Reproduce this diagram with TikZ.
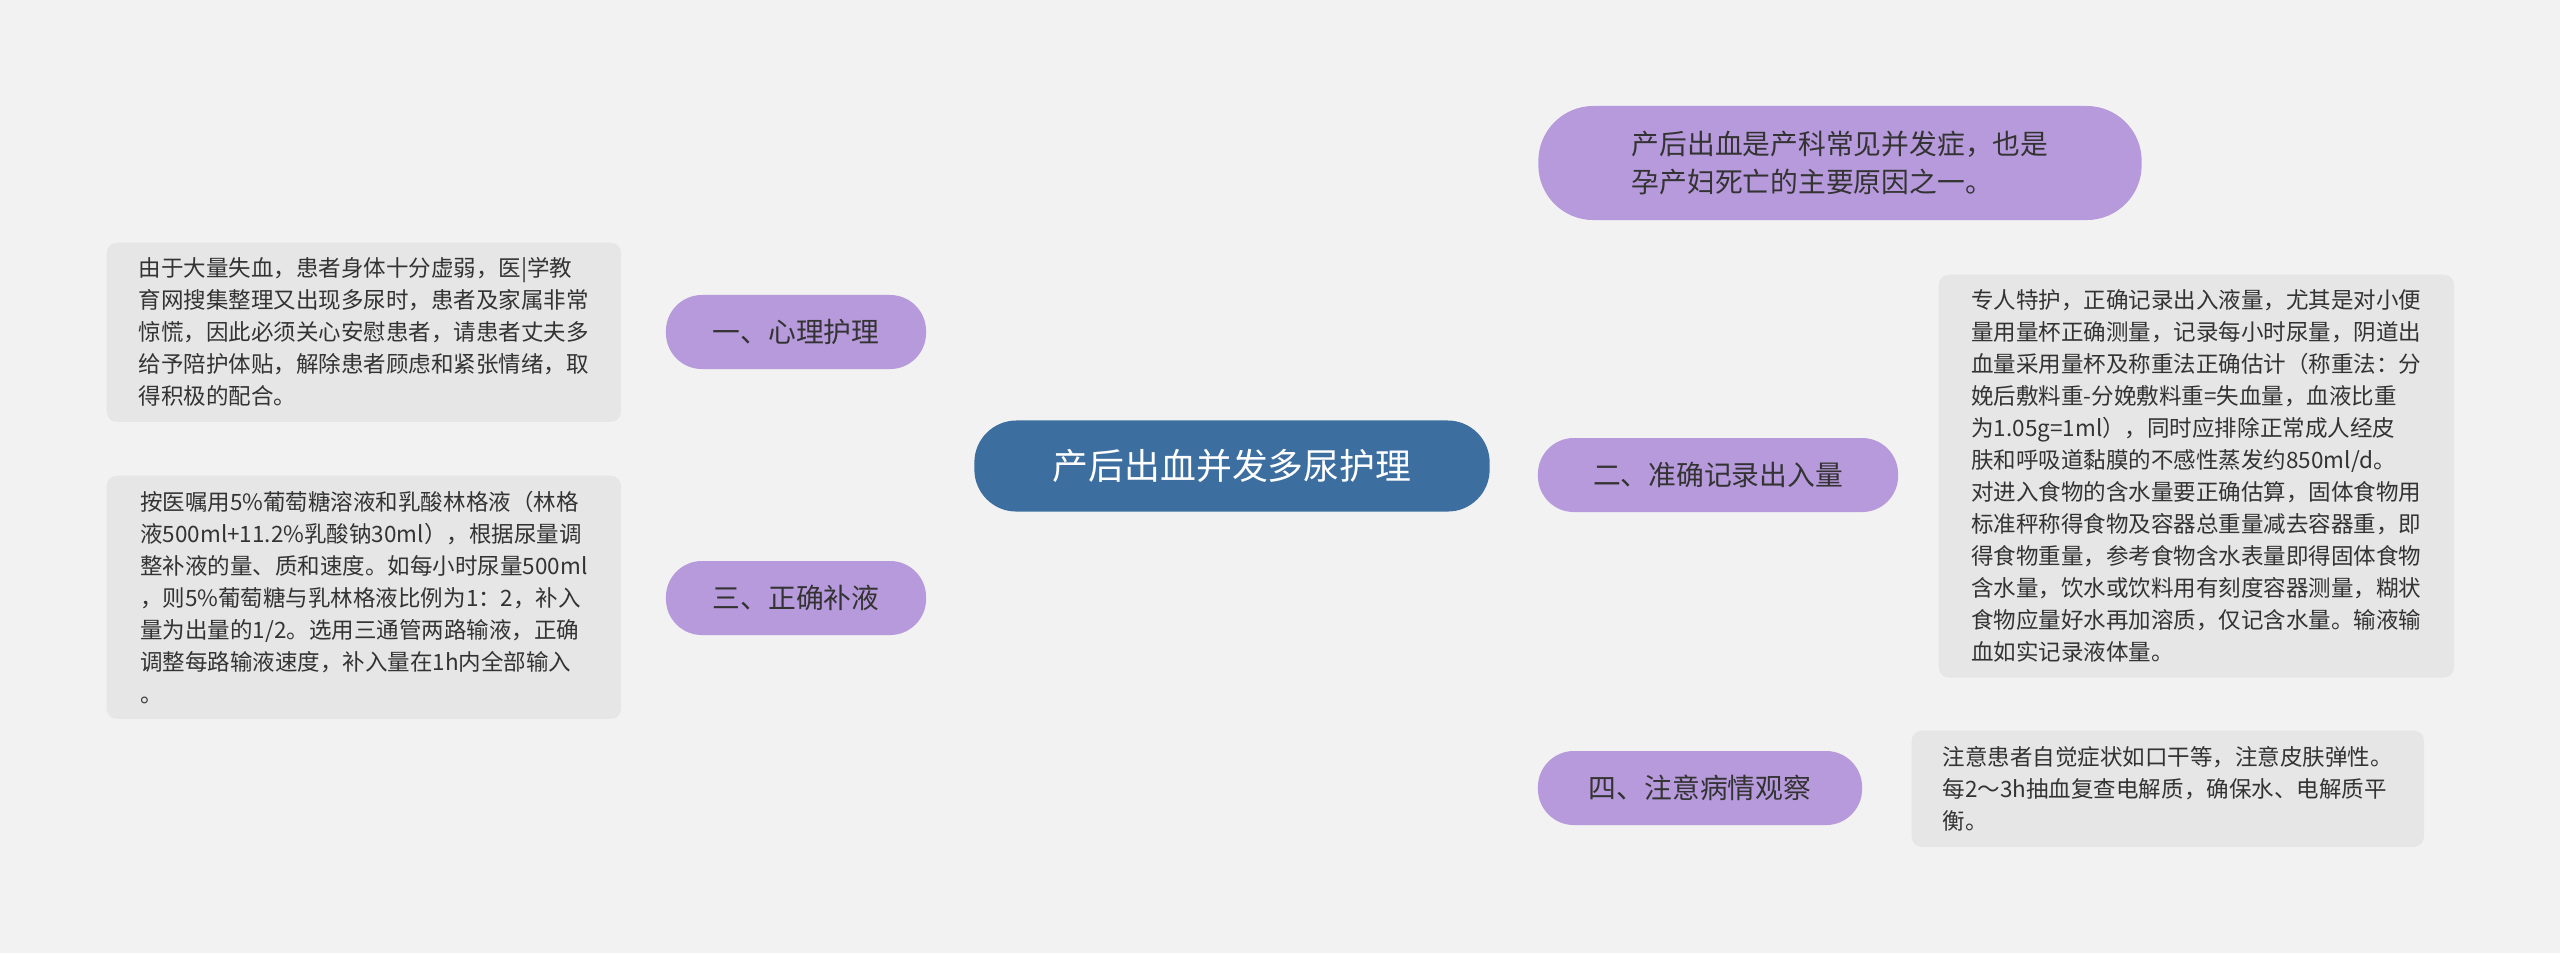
\documentclass[tikz,border=0pt]{standalone}
\usepackage{fontspec}
\setmainfont{Noto Sans CJK SC}
\usetikzlibrary{backgrounds}
\definecolor{rootblue}{HTML}{3C6E9F}
\definecolor{leaf}{HTML}{B79ADB}
\definecolor{note}{HTML}{E6E6E6}
\definecolor{paper}{HTML}{F2F2F2}
\definecolor{ink}{HTML}{333333}

\begin{document}
\begin{tikzpicture}[x=0.01cm,y=-0.01cm]
\tikzstyle{root}=[fill=rootblue,text=white,rounded corners=0.42cm,minimum width=5.15cm,minimum height=0.91cm,font=\fontsize{10.2}{12}\selectfont]
\tikzstyle{topic}=[fill=leaf,text=ink,rounded corners=0.36cm,minimum height=0.74cm,font=\fontsize{7.9}{10.6}\selectfont]
\tikzstyle{detail}=[fill=note,text=ink,rounded corners=0.1cm,align=left,inner xsep=0.17cm,inner ysep=0.15cm,font=\fontsize{6.4}{9.1}\selectfont]
\tikzstyle{link}=[draw=rootblue,line width=0.85pt]
\fill[paper] (0,0) rectangle (2560,953);
\node[root] (r) at (1232,466) {产后出血并发多尿护理};
\node[topic,minimum width=6.03cm,minimum height=1.14cm,rounded corners=0.55cm,align=left] (t0) at (1840,163) {产后出血是产科常见并发症，也是\\孕产妇死亡的主要原因之一。};
\node[topic,minimum width=2.6cm] (t1) at (796,332) {一、心理护理};
\node[topic,minimum width=2.6cm] (t3) at (796,598) {三、正确补液};
\node[topic,minimum width=3.6cm] (t2) at (1718,475) {二、准确记录出入量};
\node[topic,minimum width=3.24cm] (t4) at (1700,788) {四、注意病情观察};
\node[detail,anchor=north west,minimum width=5.14cm,minimum height=1.79cm] (d1) at (106,242) {由于大量失血，患者身体十分虚弱，医|学教\\育网搜集整理又出现多尿时，患者及家属非常\\惊慌，因此必须关心安慰患者，请患者丈夫多\\给予陪护体贴，解除患者顾虑和紧张情绪，取\\得积极的配合。};
\node[detail,anchor=north west,minimum width=5.14cm,minimum height=2.43cm] (d3) at (106,475) {按医嘱用5\%葡萄糖溶液和乳酸林格液（林格\\液500ml+11.2\%乳酸钠30ml），根据尿量调\\整补液的量、质和速度。如每小时尿量500ml\\，则5\%葡萄糖与乳林格液比例为1：2，补入\\量为出量的1/2。选用三通管两路输液，正确\\调整每路输液速度，补入量在1h内全部输入\\。};
\node[detail,anchor=north west,minimum width=5.15cm,minimum height=4.0cm] (d2) at (1938,274) {专人特护，正确记录出入液量，尤其是对小便\\量用量杯正确测量，记录每小时尿量，阴道出\\血量采用量杯及称重法正确估计（称重法：分\\娩后敷料重-分娩敷料重=失血量，血液比重\\为1.05g=1ml），同时应排除正常成人经皮\\肤和呼吸道黏膜的不感性蒸发约850ml/d。\\对进入食物的含水量要正确估算，固体食物用\\标准秤称得食物及容器总重量减去容器重，即\\得食物重量，参考食物含水表量即得固体食物\\含水量，饮水或饮料用有刻度容器测量，糊状\\食物应量好水再加溶质，仅记含水量。输液输\\血如实记录液体量。};
\node[detail,anchor=north west,minimum width=5.12cm,minimum height=1.16cm] (d4) at (1911,730) {注意患者自觉症状如口干等，注意皮肤弹性。\\每2～3h抽血复查电解质，确保水、电解质平\\衡。};
\begin{scope}[on background layer]
\fill[paper] (0,0) rectangle (2560,953);
\draw[link] (r.center) to[out=90,in=180,looseness=0.9] (t0.west);
\draw[link] (r.center) to[out=-90,in=180,looseness=0.9] (t4.west);
\draw[link] (r.east) -- (t2.west);
\draw[link] (r.west) to[out=180,in=0] (t1.east);
\draw[link] (r.west) to[out=180,in=0] (t3.east);
\draw[link] (t1.west) -- (d1.east);
\draw[link] (t3.west) -- (d3.east);
\draw[link] (t2.east) -- (d2.west |- t2.east);
\draw[link] (t4.east) -- (d4.west |- t4.east);
\end{scope}
\end{tikzpicture}
\end{document}
